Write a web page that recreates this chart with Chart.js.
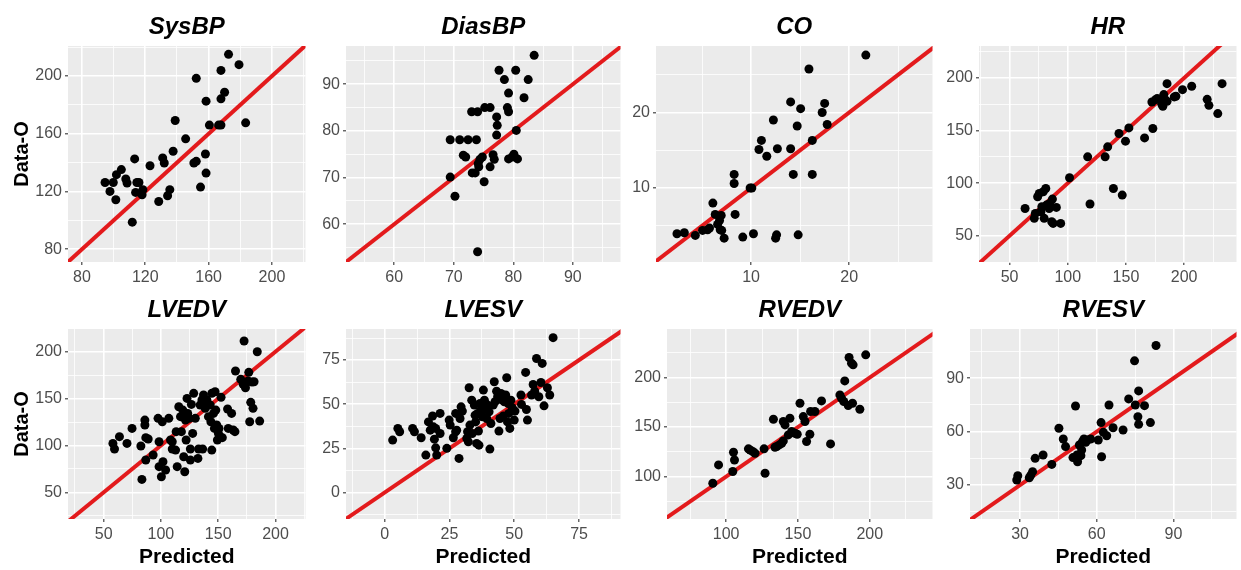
<!DOCTYPE html>
<html>
<head>
<meta charset="utf-8">
<script src="https://cdn.jsdelivr.net/npm/chart.js@4.4.1/dist/chart.umd.min.js"></script>
<style>
html, body { margin: 0; padding: 0; background: #fff; }
#wrap { position: relative; width: 1241px; height: 570px; overflow: hidden; }
#wrap canvas { position: absolute; }
</style>
</head>
<body>
<div id="wrap"></div>
<script>
// each point is [predicted, observed]
const sysbpPts = [[94.6,126.3],[97.7,120.1],[99.8,126.3],[101.4,114.3],[101.8,131.7],[104.9,135.2],[107.7,128.7],[108.5,125.9],[111.8,98.8],[113.3,142.6],[113.9,119.4],[114.7,126.3],[116.0,126.3],[118.0,117.8],[118.5,121.3],[123.0,137.9],[128.5,113.1],[131.0,143.3],[132.0,139.8],[134.1,117.1],[135.5,121.3],[137.6,147.9],[138.9,169.2],[145.5,156.5],[150.7,139.8],[152.2,140.9],[152.2,198.4],[154.9,123.1],[158.0,146.0],[158.4,132.8],[158.4,182.6],[160.5,166.0],[166.3,166.0],[167.8,166.0],[167.8,184.2],[167.8,203.9],[170.1,188.8],[172.6,215.0],[179.2,207.9],[183.4,167.6]];
const diasbpPts = [[69.4,78.1],[69.4,70.1],[70.2,66.0],[71.0,78.1],[71.6,74.8],[72.0,74.4],[72.4,78.1],[73.0,84.1],[73.1,71.0],[73.6,71.0],[73.8,78.1],[74.0,84.1],[74.0,54.1],[74.1,73.0],[74.2,72.3],[74.4,73.9],[74.8,74.4],[75.1,69.1],[75.2,85.0],[76.1,85.0],[76.1,72.3],[76.6,74.9],[76.8,73.9],[77.2,83.0],[77.3,81.2],[77.2,79.1],[77.6,93.0],[78.5,91.0],[79.0,85.0],[79.2,88.1],[79.2,84.1],[79.2,74.0],[80.1,75.0],[80.4,93.0],[80.5,80.1],[80.7,74.0],[82.5,91.0],[81.8,87.1],[83.5,96.2],[79.8,74.4]];
const coPts = [[2.44,3.94],[3.19,4.07],[4.31,3.72],[5.05,4.38],[5.56,4.47],[5.76,4.69],[6.1,8.0],[6.34,6.5],[6.58,5.18],[6.78,5.7],[6.95,6.37],[6.85,4.47],[7.0,4.38],[7.25,3.36],[8.27,11.8],[8.27,10.6],[8.37,6.5],[9.15,3.5],[9.9,10.0],[10.07,10.0],[10.24,3.94],[10.8,15.1],[11.05,16.3],[11.6,14.2],[12.27,19.0],[12.5,3.36],[12.6,3.8],[12.68,15.2],[14.03,21.4],[14.03,15.2],[14.3,11.8],[14.8,3.8],[14.7,18.2],[15.05,20.5],[15.9,25.75],[16.24,16.3],[16.24,11.8],[17.25,20.0],[17.5,21.2],[17.76,18.4],[21.7,27.6]];
const hrPts = [[63.3,75.9],[71.2,66.5],[72.1,71.2],[74.1,87.0],[75.5,90.2],[76.9,72.8],[77.7,77.5],[78.9,91.8],[79.7,66.5],[81.1,94.9],[81.7,79.1],[84.0,75.9],[84.5,80.7],[86.8,84.8],[86.2,63.3],[87.4,61.7],[90.2,76.9],[93.9,61.7],[101.5,105.1],[117.1,125.0],[119.1,80.1],[132.1,125.0],[134.3,134.5],[139.2,94.9],[144.0,147.2],[146.8,88.6],[149.6,139.9],[152.5,152.5],[166.0,143.0],[172.3,177.2],[173.1,151.9],[175.4,179.4],[176.8,180.4],[180.8,175.0],[181.7,173.1],[182.5,184.2],[183.6,179.4],[185.3,194.6],[185.3,177.8],[191.5,182.0],[192.9,182.6],[198.6,188.9],[206.5,192.1],[219.8,179.7],[221.3,174.0],[228.9,166.1],[232.6,194.6]];
const lvedvPts = [[58.1,102.2],[59.5,96.2],[63.8,109.4],[70.4,102.2],[74.8,118.2],[82.5,99.4],[83.4,63.8],[86.0,127.1],[86.0,121.8],[86.8,84.5],[86.8,108.3],[88.9,106.9],[93.2,89.8],[97.5,128.9],[98.4,104.0],[98.4,77.4],[100.4,66.7],[101.2,125.3],[101.8,82.7],[104.1,73.8],[106.9,128.9],[108.4,105.8],[109.9,96.2],[109.9,104.0],[112.8,95.1],[113.3,114.7],[114.2,77.4],[115.6,141.3],[117.1,130.7],[117.9,114.7],[119.1,137.7],[119.9,88.0],[120.8,72.0],[121.4,127.1],[122.0,105.8],[122.8,150.2],[123.4,134.2],[124.8,128.9],[125.7,84.5],[125.7,96.2],[126.6,143.8],[127.7,112.9],[128.6,155.6],[130.0,128.9],[132.3,86.2],[132.9,96.2],[134.3,143.1],[135.8,148.5],[136.4,96.2],[137.2,153.8],[138.7,139.6],[140.1,148.5],[141.5,130.7],[143.0,143.1],[143.6,125.3],[144.4,95.1],[144.4,155.6],[145.9,134.2],[146.7,118.2],[147.3,157.3],[147.9,137.7],[148.7,121.8],[149.3,105.8],[150.2,112.9],[150.7,118.2],[151.6,109.4],[152.5,151.3],[153.6,108.3],[158.2,138.9],[158.8,118.2],[161.7,134.2],[163.1,116.5],[164.6,114.7],[165.1,179.4],[169.7,170.5],[171.8,165.2],[172.6,211.4],[173.8,161.6],[176.1,168.7],[176.7,178.0],[177.5,125.3],[178.4,146.0],[179.5,167.6],[180.4,139.6],[181.3,168.0],[184.1,200.0],[186.2,126.0]];
const lvesvPts = [[3.1,29.7],[5.1,36.3],[5.8,34.4],[10.8,36.3],[11.5,34.4],[14.1,31.0],[15.9,21.2],[16.9,40.0],[17.6,35.3],[18.5,43.3],[18.8,37.2],[19.2,30.2],[19.7,25.3],[20.1,21.2],[19.7,36.3],[21.4,44.8],[21.4,33.4],[24.0,25.0],[24.9,41.0],[25.3,38.2],[26.5,31.0],[27.4,34.4],[27.4,44.8],[27.8,35.3],[28.7,19.3],[29.1,41.9],[29.5,48.5],[30.0,46.1],[31.7,30.6],[32.0,34.4],[32.3,28.7],[32.6,59.3],[32.9,38.2],[33.6,52.3],[33.8,33.4],[34.6,49.5],[34.9,43.8],[35.1,40.0],[35.5,27.8],[35.9,44.8],[36.2,34.8],[36.4,26.8],[36.8,50.4],[37.2,46.7],[37.7,42.9],[38.1,58.0],[38.5,52.3],[39.0,47.2],[39.4,41.9],[39.7,49.5],[40.3,45.7],[40.6,24.6],[41.0,39.1],[41.9,49.5],[42.3,62.7],[42.6,51.4],[43.2,57.4],[43.6,54.2],[44.1,34.8],[44.5,41.9],[44.9,56.1],[45.4,52.3],[45.8,43.4],[46.2,51.4],[46.7,55.2],[47.1,65.0],[47.4,40.0],[47.7,50.4],[47.9,44.8],[48.3,36.3],[48.7,52.3],[49.2,48.0],[50.0,41.0],[50.3,46.1],[52.6,55.2],[52.8,49.9],[54.4,68.0],[54.7,47.0],[55.1,41.0],[56.7,55.2],[57.3,61.2],[57.9,57.4],[58.6,75.9],[59.5,54.2],[60.3,62.3],[60.8,73.1],[61.5,49.1],[62.8,59.3],[63.7,55.2],[65.0,87.7]];
const rvedvPts = [[90.7,93.3],[94.7,111.8],[104.6,105.1],[105.1,124.6],[105.8,116.8],[115.5,128.0],[116.7,126.9],[118.5,125.3],[120.1,123.6],[126.4,128.0],[127.1,103.4],[132.9,157.9],[134.0,129.6],[135.2,130.3],[137.0,132.0],[138.7,133.7],[139.8,136.0],[139.8,155.6],[141.0,152.2],[143.3,142.1],[144.4,158.9],[145.6,145.5],[147.9,143.8],[149.5,142.8],[151.4,174.1],[153.7,160.6],[154.9,155.6],[156.0,135.4],[158.3,142.8],[158.8,165.7],[161.8,165.7],[166.4,176.4],[172.7,133.0],[179.2,182.5],[180.3,179.1],[181.9,175.8],[182.6,196.6],[185.0,171.7],[185.6,220.2],[187.3,214.5],[188.0,174.1],[188.4,212.8],[193.1,168.0],[197.2,222.9]];
const rvesvPts = [[28.7,32.8],[29.1,35.2],[33.6,34.1],[34.2,35.6],[34.9,37.5],[35.9,45.0],[39.0,46.9],[42.4,41.6],[45.2,61.9],[46.9,55.9],[47.8,51.6],[50.7,45.4],[51.7,74.4],[52.3,46.9],[52.5,43.1],[53.2,52.5],[53.8,46.5],[54.1,49.7],[54.4,54.4],[55.0,55.9],[55.7,54.0],[56.3,55.3],[57.6,55.9],[60.6,55.3],[61.7,65.1],[61.9,45.9],[62.6,59.6],[63.9,57.7],[64.8,75.0],[66.4,62.2],[70.3,60.9],[72.5,78.4],[74.8,99.8],[75.1,75.0],[76.1,68.4],[76.4,82.9],[76.4,64.1],[78.7,74.6],[81.0,65.1],[83.2,108.4]];

// tick labels
const sysbpTicks = [80, 120, 160, 200];
const diasbpTicks = [60, 70, 80, 90];
const coTicks = [10, 20];
const hrTicks = [50, 100, 150, 200];
const lvedvTicks = [50, 100, 150, 200];
const lvesvTicks = [0, 25, 50, 75];
const rvedvTicks = [100, 150, 200];
const rvesvTicks = [30, 60, 90];

const FONT = '"Liberation Sans", Arial, sans-serif';

const panels = [
    { title: 'SysBP', pts: sysbpPts, ticks: sysbpTicks, step: 20, xr: [71.2, 221.2], yr: [71.2, 220.8], left: 0, top: 0, w: 310, yw: 68, padR: 2, row: 0, ylab: true },
    { title: 'DiasBP', pts: diasbpPts, ticks: diasbpTicks, step: 5, xr: [51.9, 98.0], yr: [51.9, 98.2], left: 310, top: 0, w: 315, yw: 36, padR: 4, row: 0 },
    { title: 'CO', pts: coPts, ticks: coTicks, step: 5, xr: [0.3, 28.5], yr: [0.2, 28.8], left: 625, top: 0, w: 312, yw: 31, padR: 4, row: 0 },
    { title: 'HR', pts: hrPts, ticks: hrTicks, step: 25, xr: [23.7, 245], yr: [25, 230.4], left: 937, top: 0, w: 304, yw: 42, padR: 1, row: 0 },
    { title: 'LVEDV', pts: lvedvPts, ticks: lvedvTicks, step: 25, xr: [18.9, 226.2], yr: [21.6, 224.2], left: 0, top: 285, w: 310, yw: 68, padR: 2, row: 1, ylab: true },
    { title: 'LVESV', pts: lvesvPts, ticks: lvesvTicks, step: 12.5, xr: [-14.9, 91], yr: [-15, 92.6], left: 310, top: 285, w: 315, yw: 36, padR: 4, row: 1 },
    { title: 'RVEDV', pts: rvedvPts, ticks: rvedvTicks, step: 25, xr: [58.8, 243.7], yr: [57.2, 249], left: 625, top: 285, w: 312, yw: 42, padR: 4, row: 1 },
    { title: 'RVESV', pts: rvesvPts, ticks: rvesvTicks, step: 15, xr: [10.4, 114.7], yr: [10.9, 117.7], left: 937, top: 285, w: 304, yw: 33, padR: 1, row: 1 }
];

// grey panel background like ggplot
const panelBg = {
    id: 'panelBg',
    beforeDraw(chart) {
        const a = chart.chartArea;
        const ctx = chart.ctx;
        ctx.save();
        ctx.fillStyle = '#ebebeb';
        ctx.fillRect(a.left, a.top, a.right - a.left, a.bottom - a.top);
        ctx.restore();
    }
};

function gridValues(min, max, step) {
    const out = [];
    for (let k = Math.ceil(min / step); k * step <= max; k++) {
        out.push({ value: k * step });
    }
    return out;
}

function makeAxis(range, majors, step, isX, size, titleText) {
    const isMajor = c => c.tick && majors.includes(c.tick.value);
    let title = { display: false };
    if (titleText) {
        title = {
            display: true,
            text: titleText,
            color: '#000',
            font: { family: FONT, size: isX ? 21 : 20, weight: 'bold' },
            padding: isX ? { top: 0, bottom: 0.5 } : { top: 10, bottom: 0 }
        };
    }
    return {
        type: 'linear',
        position: isX ? 'bottom' : 'left',
        bounds: 'data',
        min: range[0],
        max: range[1],
        afterBuildTicks: s => { s.ticks = gridValues(range[0], range[1], step); },
        afterFit: s => { if (isX) s.height = size; else s.width = size; },
        border: { display: false },
        grid: {
            color: '#ffffff',
            lineWidth: c => isMajor(c) ? 1.6 : 0.8,
            tickColor: c => isMajor(c) ? '#333333' : 'rgba(0,0,0,0)',
            tickLength: 3,
            tickWidth: 1.1
        },
        ticks: {
            autoSkip: false,
            maxRotation: 0,
            minRotation: 0,
            padding: 3,
            color: '#4d4d4d',
            font: { family: FONT, size: 16 },
            callback: v => majors.includes(v) ? String(v) : ''
        },
        title: title
    };
}

const wrap = document.getElementById('wrap');

panels.forEach(p => {
    const h = 285;
    const xh = p.row === 0 ? 23 : 51;
    const cv = document.createElement('canvas');
    cv.width = p.w;
    cv.height = h;
    cv.style.left = p.left + 'px';
    cv.style.top = p.top + 'px';
    cv.style.width = p.w + 'px';
    cv.style.height = h + 'px';
    wrap.appendChild(cv);

    const lo = Math.min(p.xr[0], p.yr[0]);
    const hi = Math.max(p.xr[1], p.yr[1]);

    new Chart(cv, {
        type: 'scatter',
        data: {
            datasets: [
                {
                    data: p.pts.map(d => ({ x: d[0], y: d[1] })),
                    backgroundColor: '#000000',
                    borderWidth: 0,
                    pointRadius: 4.5,
                    order: 1
                },
                {
                    data: [{ x: lo, y: lo }, { x: hi, y: hi }],
                    showLine: true,
                    borderColor: '#e31a1c',
                    borderWidth: 4,
                    pointRadius: 0,
                    clip: 0,
                    order: 2
                }
            ]
        },
        options: {
            responsive: false,
            animation: false,
            devicePixelRatio: 1,
            events: [],
            layout: { padding: { left: 0, right: p.padR, top: 0, bottom: 0 } },
            plugins: {
                legend: { display: false },
                tooltip: { enabled: false },
                title: {
                    display: true,
                    text: p.title,
                    fullSize: false,
                    color: '#000',
                    font: { family: FONT, size: 24, weight: 'bold', style: 'italic' },
                    padding: p.row === 0 ? { top: 12.6, bottom: 4.6 } : { top: 11.1, bottom: 4.1 }
                }
            },
            scales: {
                x: makeAxis(p.xr, p.ticks, p.step, true, xh, p.row === 1 ? 'Predicted' : null),
                y: makeAxis(p.yr, p.ticks, p.step, false, p.yw, p.ylab ? 'Data-O' : null)
            }
        },
        plugins: [panelBg]
    });
});
</script>
</body>
</html>
